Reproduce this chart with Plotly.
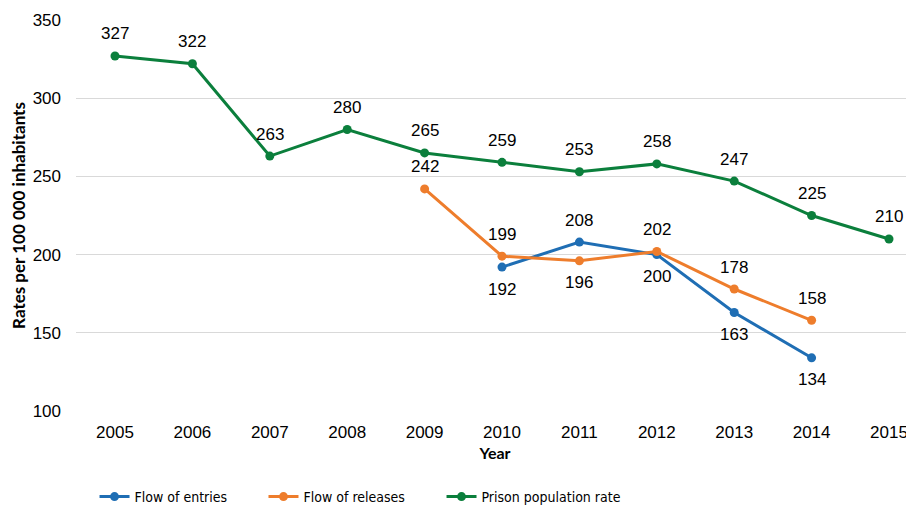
import plotly.graph_objects as go

years = [2005, 2006, 2007, 2008, 2009, 2010, 2011, 2012, 2013, 2014, 2015]
prison_rate = [327, 322, 263, 280, 265, 259, 253, 258, 247, 225, 210]
entry_years = [2010, 2011, 2012, 2013, 2014]
entries = [192, 208, 200, 163, 134]
release_years = [2009, 2010, 2011, 2012, 2013, 2014]
releases = [242, 199, 196, 202, 178, 158]

# label side: +1 above, -1 below
entry_side = [-1, 1, -1, -1, -1]
release_side = [1, 1, -1, 1, 1, 1]
prison_side = [1] * len(years)

BLUE = "#1f6eb4"
ORANGE = "#ee7d2c"
GREEN = "#0b7f3c"
LABEL_FONT = dict(family="Liberation Sans", size=17, color="#000")
LEGEND_FONT = dict(family="DejaVu Sans Condensed, Liberation Sans", size=14, color="#000")

series = [("Flow of entries", entry_years, entries, BLUE, "legend", 0.0955),
          ("Flow of releases", release_years, releases, ORANGE, "legend2", 0.2820),
          ("Prison population rate", years, prison_rate, GREEN, "legend3", 0.4785)]

fig = go.Figure()
for name, xs, ys, col, lg, _ in series:
    fig.add_trace(go.Scatter(
        x=xs, y=ys, name=name, mode="lines+markers", legend=lg,
        line=dict(color=col, width=3), marker=dict(size=9, color=col)))

annotations = []
for xs, ys, sides in [(entry_years, entries, entry_side),
                      (release_years, releases, release_side),
                      (years, prison_rate, prison_side)]:
    for x, y, s in zip(xs, ys, sides):
        annotations.append(dict(x=x, y=y, xref="x", yref="y", text=str(y), showarrow=False,
                                yshift=22 * s, font=LABEL_FONT))

legends = {}
for name, xs, ys, col, lg, lx in series:
    legends[lg] = dict(orientation="h", x=lx, xref="container", xanchor="left",
                       y=0.024, yref="container", yanchor="middle",
                       font=LEGEND_FONT, itemwidth=30, bgcolor="rgba(0,0,0,0)")

fig.update_layout(
    width=906, height=501,
    margin=dict(l=68, r=0, t=12, b=98),
    plot_bgcolor="white", paper_bgcolor="white",
    font=dict(family="Liberation Sans", size=17, color="#000"),
    xaxis=dict(range=[2004.496, 2015.323], tickvals=years, ticktext=[str(y) for y in years],
               showgrid=False, zeroline=False, showline=False, ticks="", automargin=False,
               ticklabelstandoff=9,
               title=dict(text="<b>Year</b>", font=dict(family="Lato", size=16), standoff=6),
               tickfont=dict(family="Liberation Sans", size=17)),
    yaxis=dict(range=[100, 350], dtick=50, showgrid=True, gridcolor="#d9d9d9", gridwidth=1,
               zeroline=False, showline=False, ticks="", automargin=False,
               ticklabelstandoff=14,
               tickfont=dict(family="Liberation Sans", size=17),
               title=dict(text="<b>Rates per 100 000 inhabitants</b>", font=dict(family="Lato", size=17), standoff=14)),
    annotations=annotations,
    showlegend=True,
    **legends,
)
fig.write_html("out.html")
